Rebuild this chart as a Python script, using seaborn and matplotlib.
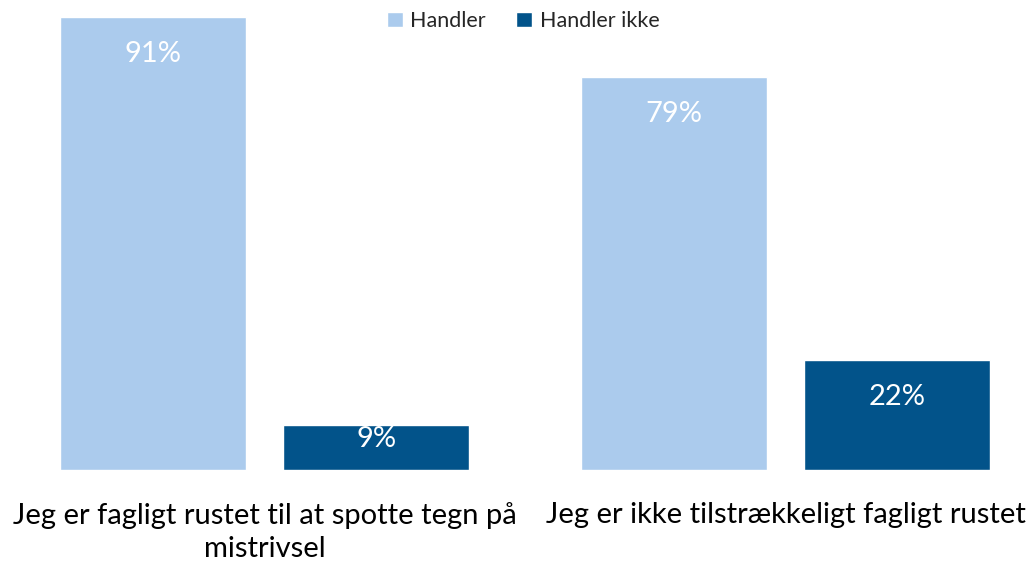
import matplotlib
matplotlib.use("Agg")
import matplotlib.pyplot as plt
import seaborn as sns
import pandas as pd

categories = ["Jeg er fagligt rustet til at spotte tegn på\nmistrivsel",
              "Jeg er ikke tilstrækkeligt fagligt rustet"]
series_names = ["Handler", "Handler ikke"]
handler = [91, 79]
handler_ikke = [9, 22]
colors = ["#ABCBED", "#02538A"]

df = pd.DataFrame({
    "kategori": categories * 2,
    "serie": [series_names[0]] * 2 + [series_names[1]] * 2,
    "vaerdi": handler + handler_ikke,
})

sns.set_theme(style="white")
plt.rcParams["font.family"] = ["Lato", "DejaVu Sans"]

fig = plt.figure(figsize=(10.35, 5.68), dpi=100)
ax = fig.add_axes([0, 98 / 568, 1, 453 / 568])

sns.barplot(data=df, x="kategori", y="vaerdi", hue="serie",
            palette=colors, width=0.856, gap=0.166, ax=ax,
            saturation=1, legend=True, errorbar=None)

ax.set_xlim(-0.508, 1.479)
ax.set_ylim(0, 91)
for s in ax.spines.values():
    s.set_visible(False)
ax.set_yticks([])
ax.set_xlabel("")
ax.set_ylabel("")
ax.tick_params(axis="x", length=0, pad=23, labelsize=21, labelcolor="black")
for lbl in ax.get_xticklabels():
    lbl.set_linespacing(1.35)

px_per_unit = 453 / 91
for cont in ax.containers:
    for bar in cont:
        h = bar.get_height()
        hpx = h * px_per_unit
        off = min(37, hpx - 31)
        ax.annotate(f"{h:.0f}%", (bar.get_x() + bar.get_width() / 2, h),
                    xytext=(0, -off * 0.72), textcoords="offset points",
                    ha="center", va="center", color="white", fontsize=21)

handles, labels = ax.get_legend_handles_labels()
ax.get_legend().remove()
fig.legend(handles, labels, loc="center", bbox_to_anchor=(523 / 1035, 1 - 21 / 568),
           ncol=2, frameon=False, fontsize=15.5, handlelength=0.75, handleheight=0.75,
           handletextpad=0.35, columnspacing=1.4)

fig.savefig("out.png", dpi=100)
